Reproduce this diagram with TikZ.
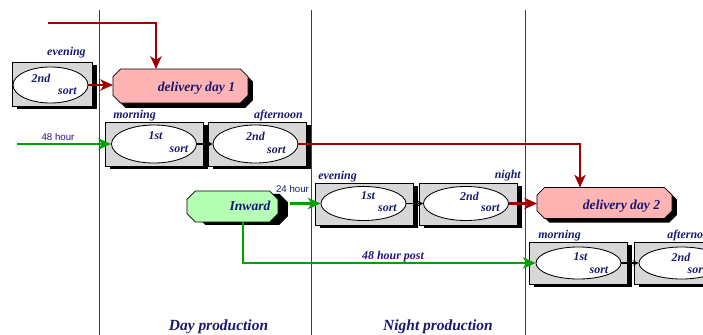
\documentclass[tikz,border=0pt]{standalone}
\usepackage{fontspec}
\setmainfont{Liberation Serif}
\newfontfamily\hoursans{Liberation Sans}
\usetikzlibrary{shapes.geometric,shadows,arrows.meta}
\definecolor{postred}{RGB}{160,0,0}
\definecolor{postgreen}{RGB}{0,160,0}
\definecolor{daypink}{RGB}{255,180,180}
\definecolor{inlime}{RGB}{180,255,180}
\definecolor{boxgray}{RGB}{215,215,215}
\definecolor{inkblue}{RGB}{25,25,112}
% octagon round a named node: #1 node, #2 chamfer, #3/#4 shift
\newcommand\octpath[4]{([shift={(#2+#3,#4)}]#1.north west) -- ([shift={(-#2+#3,#4)}]#1.north east)
  -- ([shift={(#3,-#2+#4)}]#1.north east) -- ([shift={(#3,#2+#4)}]#1.south east)
  -- ([shift={(-#2+#3,#4)}]#1.south east) -- ([shift={(#2+#3,#4)}]#1.south west)
  -- ([shift={(#3,#2+#4)}]#1.south west) -- ([shift={(#3,-#2+#4)}]#1.north west) -- cycle}
\begin{document}
\begin{tikzpicture}[x=0.025cm,y=-0.025cm,
  sortbox/.style={draw,fill=boxgray,line width=0.5pt,inner sep=0pt,minimum width=2.45cm,minimum height=1.05cm,
    drop shadow={fill=black,opacity=1,shadow xshift=3.5pt,shadow yshift=-2pt}},
  sortell/.style={draw,ellipse,fill=white,line width=0.6pt,inner sep=0pt,minimum width=2.125cm,minimum height=0.85cm},
  octo/.style={rectangle,inner sep=0pt,outer sep=0pt,minimum width=3.375cm,minimum height=0.8cm},
  txt/.style={inner sep=0pt,text=inkblue,font=\bfseries\itshape\fontsize{8.5}{10}\selectfont},
  bigtxt/.style={txt,font=\bfseries\itshape\fontsize{9.7}{11}\selectfont},
  hourtxt/.style={inner sep=0pt,text=inkblue,font=\hoursans\fontsize{6.9}{8}\selectfont},
  redline/.style={draw=postred,line width=2pt,-{Stealth[length=9pt,width=8pt,inset=2.5pt]}},
  greenline/.style={draw=postgreen,line width=1.8pt,-{Stealth[length=9pt,width=8pt,inset=2.5pt]}},
  stepline/.style={draw=black,line width=1pt,-{Stealth[length=4pt,width=4pt]}}]
        \useasboundingbox (0,0) rectangle (703,335);
        \clip (0,0) rectangle (703,335);
        % shift borders
        \draw[line width=0.6pt,black!75]
          (99,10)  -- (99,335)
          (311,10) -- (311,335)
          (525,10) -- (525,335);
        % sorting stages
        \path
          (52,84)      node[sortbox,minimum width=2cm,minimum height=1.1cm] (boxA)  {}
          (154,144)    node[sortbox,minimum height=1.1cm] (boxB1) {}
          (257.5,144)  node[sortbox,minimum height=1.1cm] (boxB2) {}
          (364,204)    node[sortbox] (boxC1) {}
          (468,204)    node[sortbox] (boxC2) {}
          (578.5,263)  node[sortbox] (boxD1) {}
          (683.5,263)  node[sortbox] (boxD2) {};
        \path
          (50.5,85)    node[sortell,minimum width=1.875cm,minimum height=0.9cm] (ellA)  {}
          (154,144)    node[sortell,minimum height=0.95cm] (ellB1) {}
          (255.5,144)  node[sortell,minimum height=0.95cm] (ellB2) {}
          (363.5,203.5) node[sortell] (ellC1) {}
          (466,203.5)  node[sortell] (ellC2) {}
          (578.5,263)  node[sortell,minimum height=0.8cm] (ellD1) {}
          (681.5,263)  node[sortell,minimum height=0.8cm] (ellD2) {};
        \path
          (180.5,86)   node[octo,minimum height=0.85cm] (dd1) {}
          (604.5,203)  node[octo,minimum height=0.775cm] (dd2) {}
          (232.5,206.5) node[octo,minimum width=2.275cm,minimum height=0.775cm] (inward) {};
        \fill[black] \octpath{dd1}{5.5pt}{3.5pt}{-3.5pt};
        \fill[black] \octpath{dd2}{5.5pt}{3.5pt}{-3pt};
        \fill[black] \octpath{inward}{6pt}{7pt}{-2pt};
        \filldraw[fill=daypink,line width=0.5pt] \octpath{dd1}{5.5pt}{0pt}{0pt};
        \filldraw[fill=daypink,line width=0.5pt] \octpath{dd2}{5.5pt}{0pt}{0pt};
        \filldraw[fill=inlime,line width=0.5pt] \octpath{inward}{6pt}{0pt}{0pt};
        \node[txt] at (41,78) {2nd};
        \node[txt] at (67.5,91) {sort};
        \node[txt] at (155.5,136) {1st};
        \node[txt] at (179,149) {sort};
        \node[txt] at (255.5,136) {2nd};
        \node[txt] at (276.5,150) {sort};
        \node[txt] at (368,196) {1st};
        \node[txt] at (387.5,208) {sort};
        \node[txt] at (469.5,196) {2nd};
        \node[txt] at (490.5,208) {sort};
        \node[txt] at (580.5,257) {1st};
        \node[txt] at (599,270) {sort};
        \node[txt] at (681,257) {2nd};
        \node[txt] at (697,270) {sort};
        \node[txt,anchor=east] at (86,53)   {evening};
        \node[txt,anchor=west] at (113,116) {morning};
        \node[txt,anchor=east] at (303,116) {afternoon};
        \node[txt,anchor=west] at (318,177) {evening};
        \node[txt,anchor=east] at (521,176) {night};
        \node[txt,anchor=west] at (538,236) {morning};
        \node[txt,anchor=west] at (667,236) {afternoon};
        \node[bigtxt] at (196.5,88)  {delivery day 1};
        \node[bigtxt] at (621.5,206) {delivery day 2};
        \node[bigtxt] at (250,206)   {Inward};
        \node[hourtxt] at (58,137)    {48 hour};
        \node[hourtxt] at (292.5,189) {24 hour};
        \node[txt] at (393,257) {48 hour post};
        \node[txt,font=\bfseries\itshape\fontsize{11}{13}\selectfont] at (218.5,327) {Day production};
        \node[txt,font=\bfseries\itshape\fontsize{11}{13}\selectfont] at (438,327)   {Night production};
        % mail flows
        \coordinate (topin) at (48,23);
        \coordinate (in48)  at (17,144);
        \draw[redline] (topin) -| ([xshift=-0.6125cm]dd1.north);
        \draw[redline] (ellA.east) -- (ellA.east -| dd1.west);
        \draw[redline] (ellB2.east) -| ([xshift=-0.6125cm]dd2.north);
        \draw[redline] (ellC2.east) -- (ellC2.east -| dd2.west);
        \draw[greenline] (in48) -- (ellB1.west);
        \draw[greenline] ([xshift=0.3cm]ellC1.west -| inward.east) -- (ellC1.west);
        \draw[greenline] ([xshift=0.2625cm]inward.south) |- (ellD1.west);
        \draw[stepline] (ellB1.east) -- (ellB2.west);
        \draw[stepline] (ellC1.east) -- (ellC2.west);
        \draw[stepline] (ellD1.east) -- (ellD2.west);
      \end{tikzpicture}
\end{document}
